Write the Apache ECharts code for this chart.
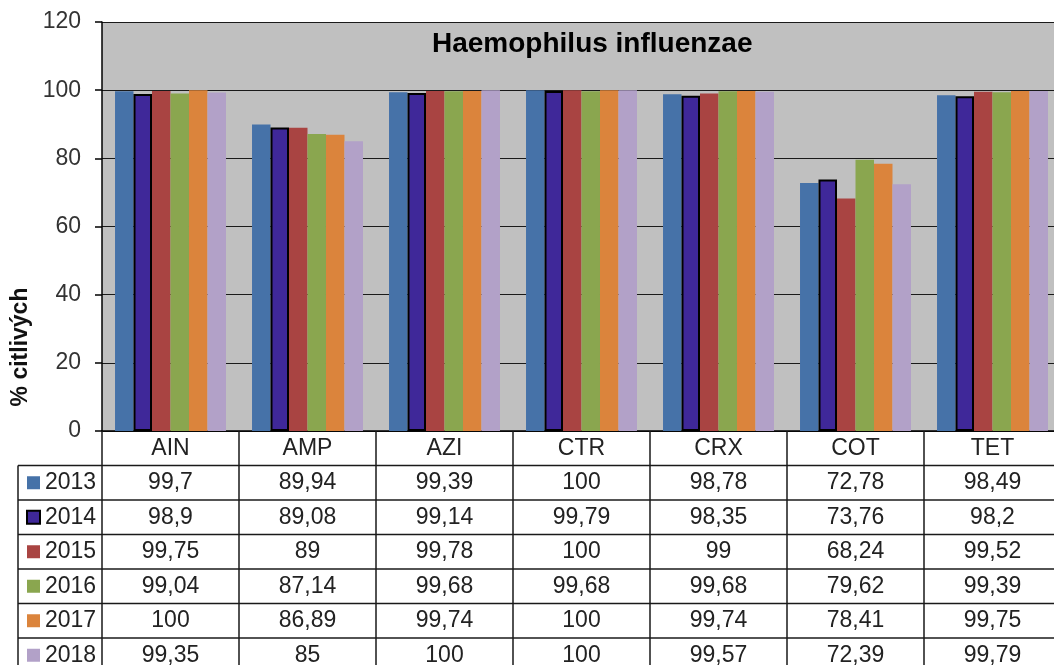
<!DOCTYPE html>
<html>
<head>
	<meta charset="utf-8">
	<title>Haemophilus influenzae</title>
	<script src="https://cdn.jsdelivr.net/npm/echarts@6/dist/echarts.min.js"></script>
	<style>
		html, body { margin: 0; padding: 0; background: #fff; }
		#chart { width: 1054px; height: 665px; }
	</style>
</head>
<body>
<div id="chart"></div>
<script>
	// antibiotika
	var categories = ['AIN', 'AMP', 'AZI', 'CTR', 'CRX', 'COT', 'TET'];
	var years = ['2013', '2014', '2015', '2016', '2017', '2018'];

	// % citlivých kmenů
	var v2013 = [99.7, 89.94, 99.39, 100, 98.78, 72.78, 98.49];
	var v2014 = [98.9, 89.08, 99.14, 99.79, 98.35, 73.76, 98.2];
	var v2015 = [99.75, 89, 99.78, 100, 99, 68.24, 99.52];
	var v2016 = [99.04, 87.14, 99.68, 99.68, 99.68, 79.62, 99.39];
	var v2017 = [100, 86.89, 99.74, 100, 99.74, 78.41, 99.75];
	var v2018 = [99.35, 85, 100, 100, 99.57, 72.39, 99.79];
	var values = [v2013, v2014, v2015, v2016, v2017, v2018];

	var colors = ['#4672a8', '#3f2899', '#a94442', '#8aa64f', '#db843c', '#b2a1c8'];

	var font = '"Liberation Sans", Arial, sans-serif';
	var fs = 23;
	var gridLeft = 102, gridTop = 22, gridBottom = 234, gridRight = -7;
	var rowH = 34.5;
	var axisY = 665 - gridBottom;

	function fmt(v) {
		return String(v).replace('.', ',');
	}

	var series = years.map(function (y, i) {
		var s = {
			name: y,
			type: 'bar',
			barGap: 0,
			barCategoryGap: '19%',
			data: values[i],
			itemStyle: { color: colors[i] }
		};
		if (y === '2014') {
			s.itemStyle.borderColor = '#000';
			s.itemStyle.borderWidth = 2;
		}
		return s;
	});

	// čáry tabulky
	var graphics = [];
	for (var r = 1; r <= 7; r++) {
		graphics.push({
			type: 'line',
			shape: { x1: 18, y1: axisY + r * rowH, x2: 1054, y2: axisY + r * rowH },
			style: { stroke: '#1a1a1a', lineWidth: 1.5 }
		});
	}
	graphics.push({
		type: 'line',
		shape: { x1: 18, y1: axisY + rowH, x2: 18, y2: 665 },
		style: { stroke: '#1a1a1a', lineWidth: 1.5 }
	});
	graphics.push({
		type: 'text',
		x: 21,
		y: 347,
		rotation: Math.PI / 2,
		style: {
			text: '% citlivých',
			font: 'bold 23px ' + font,
			fill: '#111',
			align: 'center',
			verticalAlign: 'middle'
		}
	});

	var myChart = echarts.init(document.getElementById('chart'));
	var option = {
		animation: false,
		backgroundColor: '#fff',
		title: {
			text: 'Haemophilus influenzae',
			left: 427,
			top: 25,
			textStyle: {
				fontFamily: font,
				fontSize: 28,
				fontWeight: 'bold',
				color: '#000'
			}
		},
		legend: {
			data: years,
			orient: 'vertical',
			left: 26,
			top: axisY + rowH + (rowH - fs) / 2,
			height: 260,
			padding: 0,
			itemWidth: 13,
			itemHeight: 13,
			itemGap: rowH - fs,
			icon: 'rect',
			textStyle: {
				fontFamily: font,
				fontSize: fs,
				lineHeight: fs,
				color: '#222'
			}
		},
		grid: {
			left: gridLeft,
			top: gridTop,
			right: gridRight,
			bottom: gridBottom,
			outerBoundsMode: 'none',
			containLabel: false,
			show: true,
			backgroundColor: '#c0c0c0',
			borderWidth: 0
		},
		xAxis: {
			type: 'category',
			data: categories,
			axisLine: { lineStyle: { color: '#000', width: 1.5 } },
			axisTick: {
				show: true,
				interval: 0,
				length: 240,
				lineStyle: { color: '#1a1a1a', width: 1.5 }
			},
			axisLabel: {
				interval: 0,
				margin: 0,
				fontFamily: font,
				fontSize: fs,
				lineHeight: rowH,
				color: '#222',
				formatter: function (value, idx) {
					var lines = [value];
					for (var i = 0; i < values.length; i++) {
						lines.push(fmt(values[i][idx]));
					}
					return lines.join('\n');
				}
			}
		},
		yAxis: {
			type: 'value',
			min: 0,
			max: 120,
			interval: 20,
			axisLine: { show: true, lineStyle: { color: '#000', width: 1.5 } },
			axisTick: { show: true, length: 7, lineStyle: { color: '#000', width: 1.5 } },
			axisLabel: {
				margin: 21,
				fontFamily: font,
				fontSize: fs,
				color: '#333'
			},
			splitLine: { show: true, lineStyle: { color: '#1a1a1a', width: 1.2 } }
		},
		graphic: graphics,
		series: series
	};
	myChart.setOption(option);
</script>
</body>
</html>
